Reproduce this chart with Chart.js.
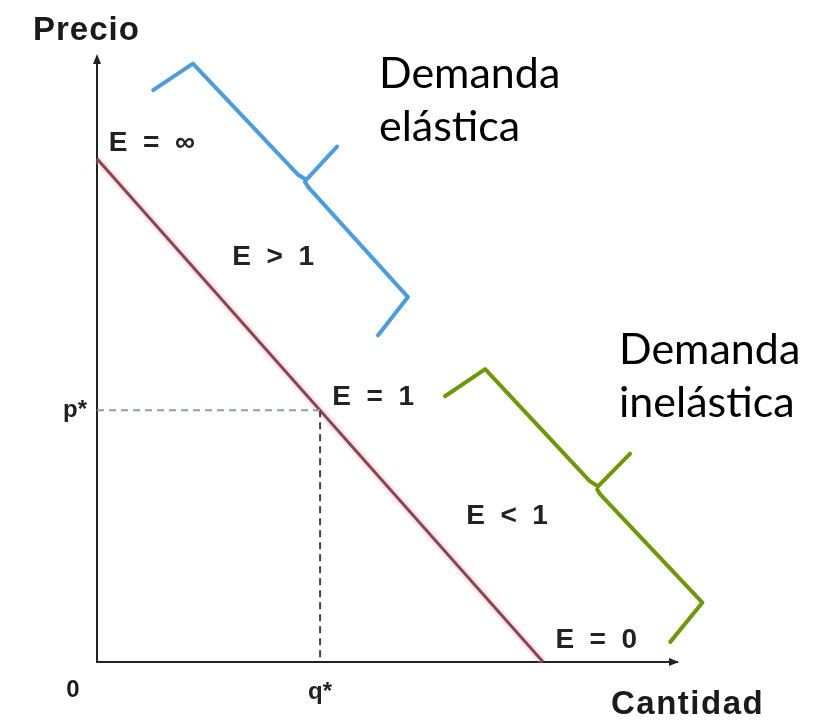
<!DOCTYPE html>
<html>
<head>
<meta charset="utf-8">
<script src="https://cdn.jsdelivr.net/npm/chart.js@4/dist/chart.umd.min.js"></script>
<style>
  html, body { margin: 0; padding: 0; background: #ffffff; }
  #wrap { width: 834px; height: 721px; position: relative; }
</style>
</head>
<body>
<div id="wrap"><canvas id="c"></canvas></div>
<script>
// ---- Data (abstract units: Q on x, P on y) ----
const demandQ = [0, 10];
const demandP = [10, 0];
const pStar = 5;
const qStar = 5;
const xTickValues = [5];
const xTickLabels = ['q*'];
const yTickValues = [5];
const yTickLabels = ['p*'];
const axisMaxQ = 13;
const axisMaxP = 12;

// Brace outlines (data units)
const blueBraceUpperQ = [1.26, 2.15, 4.51, 4.69, 5.38];
const blueBraceUpperP = [11.36, 11.89, 9.68, 9.58, 10.24];
const blueBraceLowerQ = [4.66, 4.75, 6.97, 6.30];
const blueBraceLowerP = [9.54, 9.42, 7.25, 6.49];
const greenBraceUpperQ = [7.80, 8.70, 11.05, 11.23, 11.95];
const greenBraceUpperP = [5.28, 5.82, 3.59, 3.49, 4.14];
const greenBraceLowerQ = [11.21, 11.28, 13.57, 12.85];
const greenBraceLowerP = [3.43, 3.33, 1.18, 0.40];

// Annotation texts
const elasticityLabels = ['E = \u221E', 'E > 1', 'E = 1', 'E < 1', 'E = 0'];
const elasticityLabelQ = [1.23, 3.95, 6.19, 9.19, 11.19];
const elasticityLabelP = [10.30, 8.05, 5.26, 2.89, 0.44];
const regionTitles = [['Demanda', 'elástica'], ['Demanda', 'inelástica']];

const pts = (xs, ys) => xs.map((x, i) => ({ x: x, y: ys[i] }));

const annotationPlugin = {
  id: 'annot',
  afterDatasetsDraw(chart) {
    const ctx = chart.ctx;
    const xs = chart.scales.x, ys = chart.scales.y;
    const ca = chart.chartArea;
    ctx.save();
    // arrowheads
    ctx.fillStyle = '#222';
    ctx.beginPath();
    ctx.moveTo(ca.left, ca.top - 4);
    ctx.lineTo(ca.left - 4, ca.top + 6);
    ctx.lineTo(ca.left + 4, ca.top + 6);
    ctx.closePath(); ctx.fill();
    ctx.beginPath();
    ctx.moveTo(ca.right + 2, ca.bottom);
    ctx.lineTo(ca.right - 8, ca.bottom - 4);
    ctx.lineTo(ca.right - 8, ca.bottom + 4);
    ctx.closePath(); ctx.fill();

    // axis titles
    ctx.fillStyle = '#1a1a1a';
    ctx.font = 'bold 33px "Liberation Sans", Arial, sans-serif';
    ctx.textBaseline = 'alphabetic';
    ctx.textAlign = 'left';
    ctx.letterSpacing = '1px';
    ctx.fillText('Precio', 33, 40);
    ctx.letterSpacing = '1.5px';
    ctx.fillText('Cantidad', 611, 714);
    ctx.letterSpacing = '0px';
    ctx.font = 'bold 24px "Liberation Sans", Arial, sans-serif';
    ctx.textAlign = 'center';
    ctx.fillText('0', 73, 697);

    // elasticity labels
    ctx.font = 'bold 28px "Liberation Sans", Arial, sans-serif';
    ctx.textBaseline = 'middle';
    ctx.textAlign = 'center';
    ctx.fillStyle = '#222';
    elasticityLabels.forEach((t, i) => {
      const px = xs.getPixelForValue(elasticityLabelQ[i]);
      const py = ys.getPixelForValue(elasticityLabelP[i]);
      ctx.fillText(t.replace(/ /g, '  '), px, py);
    });

    // region titles
    ctx.font = '43px Lato, "Open Sans", sans-serif';
    ctx.textAlign = 'left';
    ctx.textBaseline = 'alphabetic';
    ctx.fillStyle = '#000';
    ctx.fillText(regionTitles[0][0], 379, 88);
    ctx.fillText(regionTitles[0][1], 379, 141);
    ctx.fillText(regionTitles[1][0], 619, 364);
    ctx.fillText(regionTitles[1][1], 619, 417);
    ctx.restore();
  }
};

const lineDs = (data, color, width, extra) => Object.assign({
  data: data, showLine: true, borderColor: color, borderWidth: width,
  pointRadius: 0, fill: false, clip: false,
  borderJoinStyle: 'round', borderCapStyle: 'round'
}, extra || {});

const blue = '#4b9de2';
const green = '#6b9a04';

new Chart(document.getElementById('c'), {
  type: 'scatter',
  data: {
    datasets: [
      lineDs([{x: 0, y: pStar}, {x: qStar, y: pStar}], '#8f9ab0', 2, { borderDash: [7, 5], borderCapStyle: 'butt' }),
      lineDs([{x: qStar, y: pStar}, {x: qStar, y: 0}], '#444', 2, { borderDash: [7, 5], borderCapStyle: 'butt' }),
      lineDs(pts(demandQ, demandP), 'rgba(250,160,175,0.28)', 8, { borderCapStyle: 'butt' }),
      lineDs(pts(demandQ, demandP), '#5e2232', 3, { borderCapStyle: 'butt' }),
      lineDs(pts(blueBraceUpperQ, blueBraceUpperP), blue, 4),
      lineDs(pts(blueBraceLowerQ, blueBraceLowerP), blue, 4),
      lineDs(pts(greenBraceUpperQ, greenBraceUpperP), green, 4),
      lineDs(pts(greenBraceLowerQ, greenBraceLowerP), green, 4)
    ]
  },
  options: {
    responsive: true,
    maintainAspectRatio: false,
    animation: false,
    events: [],
    layout: { padding: { top: 58, right: 157, left: 0, bottom: 0 } },
    plugins: { legend: { display: false }, tooltip: { enabled: false } },
    scales: {
      x: {
        type: 'linear', min: 0, max: axisMaxQ,
        grid: { display: false, drawTicks: false },
        border: { display: true, color: '#222', width: 2 },
        afterBuildTicks: (s) => { s.ticks = xTickValues.map(v => ({ value: v })); },
        afterFit: (s) => { s.height = 59; },
        ticks: {
          padding: 16, color: '#222',
          font: { family: '"Liberation Sans", Arial, sans-serif', size: 24, weight: 'bold' },
          callback: (v) => xTickLabels[xTickValues.indexOf(v)] ?? ''
        }
      },
      y: {
        type: 'linear', min: 0, max: axisMaxP,
        grid: { display: false, drawTicks: false },
        border: { display: true, color: '#222', width: 2 },
        afterBuildTicks: (s) => { s.ticks = yTickValues.map(v => ({ value: v })); },
        afterFit: (s) => { s.width = 97; },
        ticks: {
          padding: 10, color: '#222',
          font: { family: '"Liberation Sans", Arial, sans-serif', size: 24, weight: 'bold' },
          callback: (v) => yTickLabels[yTickValues.indexOf(v)] ?? ''
        }
      }
    }
  },
  plugins: [annotationPlugin]
});
</script>
</body>
</html>
